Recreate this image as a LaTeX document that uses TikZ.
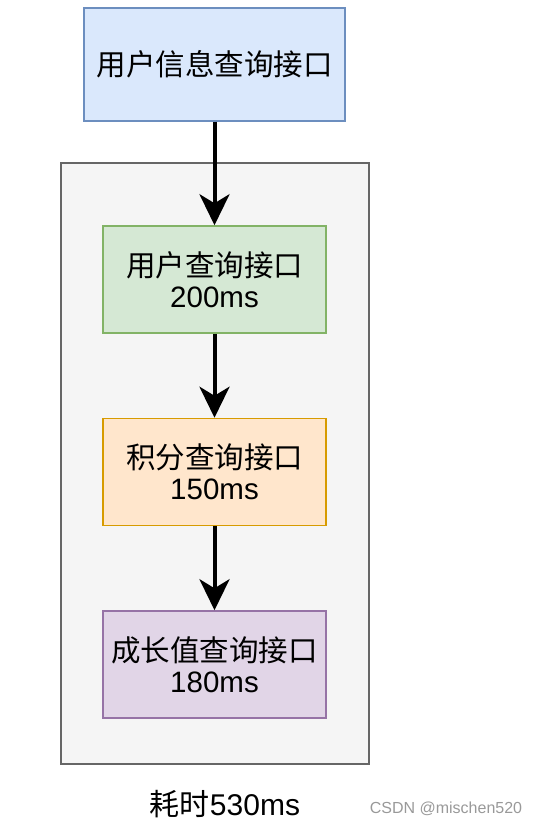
\documentclass[tikz,border=0pt]{standalone}
\usepackage{fontspec}
\setmainfont{Liberation Sans}
\newfontfamily\cjk{Noto Sans CJK SC}
\usetikzlibrary{arrows.meta}
\definecolor{blueF}{HTML}{DAE8FC}\definecolor{blueD}{HTML}{6C8EBF}
\definecolor{greenF}{HTML}{D5E8D4}\definecolor{greenD}{HTML}{82B366}
\definecolor{orangeF}{HTML}{FFE6CC}\definecolor{orangeD}{HTML}{D79B00}
\definecolor{purpleF}{HTML}{E1D5E7}\definecolor{purpleD}{HTML}{9673A6}
\definecolor{grayF}{HTML}{F5F5F5}\definecolor{grayD}{HTML}{666666}
\tikzset{
  apibox/.style={draw, line width=1.5pt, minimum width=223pt, minimum height=107pt, align=center, inner sep=0pt, font=\fontsize{29.5}{31}\selectfont},
  flow/.style={line width=4pt, -{Stealth[length=31pt,width=30pt,inset=9pt]}}
}
\begin{document}
\begin{tikzpicture}[x=1pt,y=-1pt]
\useasboundingbox (0,0) rectangle (535,826);
\node[draw=grayD, fill=grayF, line width=2pt, minimum width=308pt, minimum height=601pt, inner sep=0pt] (group) at (215,463.5) {};
\node[apibox, draw=blueD, fill=blueF, minimum width=261pt, minimum height=113pt] (info) at (214.5,64.5) {\cjk 用户信息查询接口};
\node[apibox, draw=greenD, fill=greenF] (user) at (214.5,279.5) {{\cjk 用户查询接口}\\200ms};
\node[apibox, draw=orangeD, fill=orangeF] (points) at (214.5,472) {{\cjk 积分查询接口}\\150ms};
\node[apibox, draw=purpleD, fill=purpleF] (growth) at (214.5,664.5) {{\cjk 成长值查询接口}\\180ms};
\draw[flow] (info) -- (user);
\draw[flow] (user) -- (points);
\draw[flow] (points) -- (growth);
\node[font=\fontsize{30}{34}\selectfont] (total) at (225,804) {{\cjk 耗时}530ms};
\node[font=\fontsize{16}{20}\selectfont, text=black!40] (mark) at (446,809) {CSDN @mischen520};
\end{tikzpicture}
\end{document}
